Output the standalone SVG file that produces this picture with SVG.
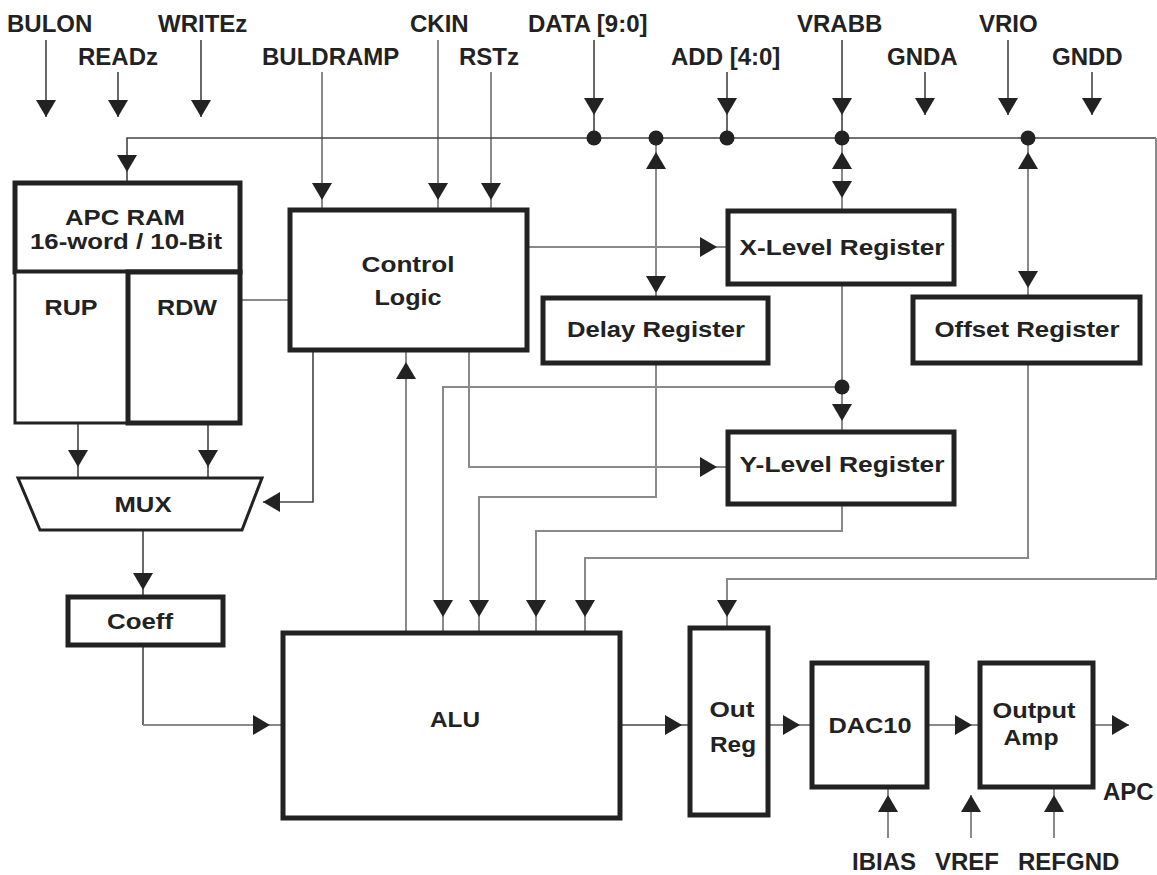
<svg xmlns="http://www.w3.org/2000/svg" xmlns:xlink="http://www.w3.org/1999/xlink" width="1157" height="875" viewBox="0 0 1157 875">
<style>
.lbl{font-family:"Liberation Sans",Arial,sans-serif;font-weight:bold;font-size:24px;fill:#222}
.bt{font-family:"Liberation Sans",Arial,sans-serif;font-weight:bold;font-size:22px;fill:#222;text-anchor:middle}
.box{fill:#fff;stroke:#222;stroke-width:5}
.thin{fill:#fff;stroke:#222;stroke-width:3}
.w{fill:none;stroke:#444;stroke-width:1.6}
.g{fill:none;stroke:#8a8a8a;stroke-width:2}
.ah{fill:#222}
.dot{fill:#222}
</style>
<defs>
<path id="ad" d="M-10,-17 L10,-17 L0,0 Z"/>
</defs>
<rect width="1157" height="875" fill="#fff"/>

<g id="labels">
<text class="lbl" x="7" y="32">BULON</text>
<text class="lbl" x="158" y="32">WRITEz</text>
<text class="lbl" x="410" y="32">CKIN</text>
<text class="lbl" x="528" y="32">DATA [9:0]</text>
<text class="lbl" x="797" y="32">VRABB</text>
<text class="lbl" x="979" y="32">VRIO</text>
<text class="lbl" x="78" y="65">READz</text>
<text class="lbl" x="262" y="65">BULDRAMP</text>
<text class="lbl" x="459" y="65">RSTz</text>
<text class="lbl" x="671" y="65">ADD [4:0]</text>
<text class="lbl" x="887" y="65">GNDA</text>
<text class="lbl" x="1052" y="65">GNDD</text>
<text class="lbl" x="1103" y="800">APC</text>
<text class="lbl" x="852" y="870">IBIAS</text>
<text class="lbl" x="935" y="870">VREF</text>
<text class="lbl" x="1018" y="870">REFGND</text>
</g>

<g id="connectors">
<path class="w" d="M46,40V117M118,72V117M201,40V117"/>
<path class="g" d="M322,72V210M438,40V210M491,72V210"/>
<path class="w" d="M594,40V138M727,72V138M842,40V138M925,72V115M1008,40V115M1092,72V115"/>
<path class="w" d="M127,183V138H1156"/>
<path class="g" d="M1156,138V579H727V628"/>
<path class="g" d="M656,138V298M842,138V211M1028,138V297"/>
<path class="w" d="M78,423V478M208,423V478"/>
<path class="g" d="M240,300H290"/>
<path class="w" d="M313,350V502H263"/>
<path class="w" d="M143,530V597"/>
<path class="w" d="M143,645V725"/>
<path class="g" d="M143,725H283"/>
<path class="g" d="M527,247H728"/>
<path class="g" d="M469,350V467H728"/>
<path class="g" d="M406,633V352"/>
<path class="g" d="M842,284V432"/>
<path class="g" d="M842,387H443V633"/>
<path class="g" d="M656,363V497H479V633"/>
<path class="g" d="M842,504V531H536V633"/>
<path class="g" d="M1028,363V558H585V633"/>
<path class="w" d="M620,725H690"/>
<path class="g" d="M768,725H812M927,725H980M1093,725H1129"/>
<path class="g" d="M888,838V787M971,838V795M1054,838V787"/>

<g class="ah">
<use xlink:href="#ad" href="#ad" transform="translate(46,117)"/>
<use xlink:href="#ad" href="#ad" transform="translate(118,117)"/>
<use xlink:href="#ad" href="#ad" transform="translate(201,117)"/>
<use xlink:href="#ad" href="#ad" transform="translate(322,200)"/>
<use xlink:href="#ad" href="#ad" transform="translate(438,200)"/>
<use xlink:href="#ad" href="#ad" transform="translate(491,200)"/>
<use xlink:href="#ad" href="#ad" transform="translate(594,115)"/>
<use xlink:href="#ad" href="#ad" transform="translate(727,115)"/>
<use xlink:href="#ad" href="#ad" transform="translate(842,115)"/>
<use xlink:href="#ad" href="#ad" transform="translate(925,115)"/>
<use xlink:href="#ad" href="#ad" transform="translate(1008,115)"/>
<use xlink:href="#ad" href="#ad" transform="translate(1092,115)"/>
<use xlink:href="#ad" href="#ad" transform="translate(127,172)"/>
<use xlink:href="#ad" href="#ad" transform="translate(656,293)"/>
<use xlink:href="#ad" href="#ad" transform="translate(842,198)"/>
<use xlink:href="#ad" href="#ad" transform="translate(1028,288)"/>
<use xlink:href="#ad" href="#ad" transform="translate(78,467)"/>
<use xlink:href="#ad" href="#ad" transform="translate(208,467)"/>
<use xlink:href="#ad" href="#ad" transform="translate(143,590)"/>
<use xlink:href="#ad" href="#ad" transform="translate(842,421)"/>
<use xlink:href="#ad" href="#ad" transform="translate(443,617)"/>
<use xlink:href="#ad" href="#ad" transform="translate(479,617)"/>
<use xlink:href="#ad" href="#ad" transform="translate(536,617)"/>
<use xlink:href="#ad" href="#ad" transform="translate(585,617)"/>
<use xlink:href="#ad" href="#ad" transform="translate(727,617)"/>
<use xlink:href="#ad" href="#ad" transform="translate(656,152) rotate(180)"/>
<use xlink:href="#ad" href="#ad" transform="translate(842,152) rotate(180)"/>
<use xlink:href="#ad" href="#ad" transform="translate(1028,152) rotate(180)"/>
<use xlink:href="#ad" href="#ad" transform="translate(406,362) rotate(180)"/>
<use xlink:href="#ad" href="#ad" transform="translate(888,795) rotate(180)"/>
<use xlink:href="#ad" href="#ad" transform="translate(971,795) rotate(180)"/>
<use xlink:href="#ad" href="#ad" transform="translate(1054,795) rotate(180)"/>
<use xlink:href="#ad" href="#ad" transform="translate(717,247) rotate(-90)"/>
<use xlink:href="#ad" href="#ad" transform="translate(717,467) rotate(-90)"/>
<use xlink:href="#ad" href="#ad" transform="translate(270,725) rotate(-90)"/>
<use xlink:href="#ad" href="#ad" transform="translate(682,725) rotate(-90)"/>
<use xlink:href="#ad" href="#ad" transform="translate(800,725) rotate(-90)"/>
<use xlink:href="#ad" href="#ad" transform="translate(972,725) rotate(-90)"/>
<use xlink:href="#ad" href="#ad" transform="translate(1129,725) rotate(-90)"/>
<use xlink:href="#ad" href="#ad" transform="translate(263,502) rotate(90)"/>
</g>
<g class="dot">
<circle cx="594" cy="138" r="7.5"/>
<circle cx="656" cy="138" r="7.5"/>
<circle cx="727" cy="138" r="7.5"/>
<circle cx="842" cy="138" r="7.5"/>
<circle cx="1028" cy="138" r="7.5"/>
<circle cx="842" cy="387" r="7.5"/>
</g>
</g>

<g id="apc-ram">
<rect class="box" x="15" y="183" width="225" height="89"/>
<text class="bt" x="125" y="225" textLength="120" lengthAdjust="spacingAndGlyphs">APC RAM</text>
<text class="bt" x="126" y="249" textLength="192" lengthAdjust="spacingAndGlyphs">16-word / 10-Bit</text>
</g>
<g id="rup">
<rect class="thin" x="15" y="272" width="113" height="151"/>
<text class="bt" x="71" y="315" textLength="53" lengthAdjust="spacingAndGlyphs">RUP</text>
</g>
<g id="rdw">
<rect class="box" x="128" y="272" width="112" height="151"/>
<text class="bt" x="187" y="315" textLength="60" lengthAdjust="spacingAndGlyphs">RDW</text>
</g>
<g id="control-logic">
<rect class="box" x="290" y="210" width="237" height="140"/>
<text class="bt" x="408" y="272" textLength="93" lengthAdjust="spacingAndGlyphs">Control</text>
<text class="bt" x="408" y="305" textLength="67" lengthAdjust="spacingAndGlyphs">Logic</text>
</g>
<g id="x-level">
<rect class="box" x="728" y="211" width="226" height="73"/>
<text class="bt" x="842" y="255" textLength="205" lengthAdjust="spacingAndGlyphs">X-Level Register</text>
</g>
<g id="delay">
<rect class="box" x="543" y="298" width="225" height="65"/>
<text class="bt" x="656" y="337" textLength="178" lengthAdjust="spacingAndGlyphs">Delay Register</text>
</g>
<g id="offset">
<rect class="box" x="913" y="297" width="227" height="66"/>
<text class="bt" x="1027" y="337" textLength="185" lengthAdjust="spacingAndGlyphs">Offset Register</text>
</g>
<g id="y-level">
<rect class="box" x="728" y="432" width="226" height="72"/>
<text class="bt" x="842" y="472" textLength="205" lengthAdjust="spacingAndGlyphs">Y-Level Register</text>
</g>
<g id="mux">
<path class="thin" d="M18,478H262L242,530H40Z"/>
<text class="bt" x="143" y="512" textLength="57" lengthAdjust="spacingAndGlyphs">MUX</text>
</g>
<g id="coeff">
<rect class="box" x="68" y="597" width="155" height="48"/>
<text class="bt" x="140" y="629" textLength="66" lengthAdjust="spacingAndGlyphs">Coeff</text>
</g>
<g id="alu">
<rect class="box" x="283" y="633" width="337" height="185"/>
<text class="bt" x="455" y="727" textLength="50" lengthAdjust="spacingAndGlyphs">ALU</text>
</g>
<g id="out-reg">
<rect class="box" x="690" y="628" width="78" height="187"/>
<text class="bt" x="732" y="717" textLength="45" lengthAdjust="spacingAndGlyphs">Out</text>
<text class="bt" x="733" y="752" textLength="46" lengthAdjust="spacingAndGlyphs">Reg</text>
</g>
<g id="dac10">
<rect class="box" x="812" y="663" width="115" height="124"/>
<text class="bt" x="870" y="733" textLength="83" lengthAdjust="spacingAndGlyphs">DAC10</text>
</g>
<g id="output-amp">
<rect class="box" x="980" y="663" width="113" height="124"/>
<text class="bt" x="1034" y="718" textLength="83" lengthAdjust="spacingAndGlyphs">Output</text>
<text class="bt" x="1031" y="745" textLength="55" lengthAdjust="spacingAndGlyphs">Amp</text>
</g>
</svg>
